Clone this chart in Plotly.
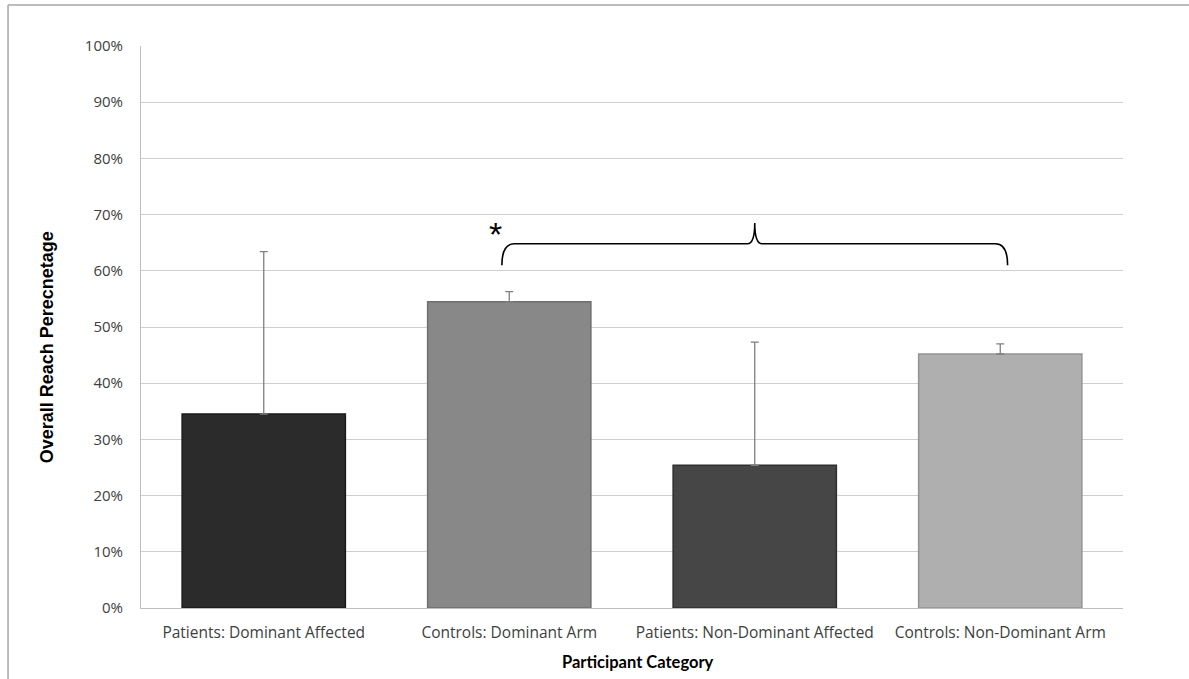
import plotly.graph_objects as go

categories = ["Patients: Dominant Affected", "Controls: Dominant Arm",
              "Patients: Non-Dominant Affected", "Controls: Non-Dominant Arm"]
values = [34.5, 54.5, 25.4, 45.2]
errors_plus = [28.9, 1.8, 21.9, 1.8]
bar_colors = ["#2b2b2b", "#888888", "#464646", "#afafaf"]
line_colors = ["#1a1a1a", "#6e6e6e", "#2f2f2f", "#949494"]
y_ticks = [0, 10, 20, 30, 40, 50, 60, 70, 80, 90, 100]
y_tick_labels = [f"{v}%" for v in y_ticks]

xpos = list(range(len(categories)))

fig = go.Figure()
fig.add_trace(go.Bar(
    x=xpos, y=values,
    marker=dict(color=bar_colors, line=dict(color=line_colors, width=1.5)),
    width=0.665,
    error_y=dict(type="data", symmetric=False, array=errors_plus,
                 arrayminus=[0] * len(values), color="#7f7f7f",
                 thickness=1.3, width=4),
    showlegend=False,
))

# significance brace
brace = ("M 0.97,61 Q 0.97,64.8 1.02,64.8 L 1.97,64.8 Q 2.0,64.8 2.0,68.5 "
         "Q 2.0,64.8 2.03,64.8 L 2.98,64.8 Q 3.03,64.8 3.03,61")
fig.add_shape(type="path", path=brace, xref="x", yref="y",
              line=dict(color="black", width=1.6))
fig.add_annotation(x=0.945, y=66.6, xref="x", yref="y", text="*",
                   showarrow=False, font=dict(size=34, color="black",
                                              family="Liberation Sans"))

# axis titles
fig.add_annotation(x=-0.0957, y=0.464, xref="paper", yref="paper",
                   xanchor="center", yanchor="middle",
                   text="<b>Overall Reach Perecnetage</b>", textangle=-90,
                   showarrow=False,
                   font=dict(size=18, color="black", family="Liberation Sans"))
fig.add_annotation(x=0.506, y=-0.096, xref="paper", yref="paper",
                   xanchor="center", yanchor="middle",
                   text="<b>Participant Category</b>", showarrow=False,
                   font=dict(size=16.5, color="black", family="Lato"))

# outer frame (top and left)
fig.add_shape(type="line", xref="paper", yref="paper",
              x0=-0.1354, x1=1.08, y0=1.073, y1=1.073,
              line=dict(color="#a6a6a6", width=1.5))
fig.add_shape(type="line", xref="paper", yref="paper",
              x0=-0.1354, x1=-0.1354, y0=1.073, y1=-0.14,
              line=dict(color="#a6a6a6", width=1.5))

fig.update_layout(
    width=1189, height=679,
    margin=dict(l=141, r=66, t=46, b=71),
    paper_bgcolor="white", plot_bgcolor="white",
    font=dict(family="Open Sans", color="#404040", size=13),
    xaxis=dict(range=[-0.5, 3.5], tickvals=xpos, ticktext=categories,
               showgrid=False, showline=True, linecolor="#bfbfbf",
               linewidth=1, ticks="outside", ticklen=10,
               tickcolor="rgba(0,0,0,0)", zeroline=False,
               tickfont=dict(size=15.5, color="#404040", family="Open Sans")),
    yaxis=dict(range=[0, 100], tickvals=y_ticks, ticktext=y_tick_labels,
               showgrid=True, gridcolor="#cfcfcf", gridwidth=1,
               showline=True, linecolor="#bfbfbf", linewidth=1,
               zeroline=False, ticks="outside", ticklen=14,
               tickcolor="rgba(0,0,0,0)",
               tickfont=dict(size=15, color="#404040", family="Open Sans")),
)

fig.write_html("out.html", config={"displayModeBar": False},
               post_script="document.body.style.margin='0';")
